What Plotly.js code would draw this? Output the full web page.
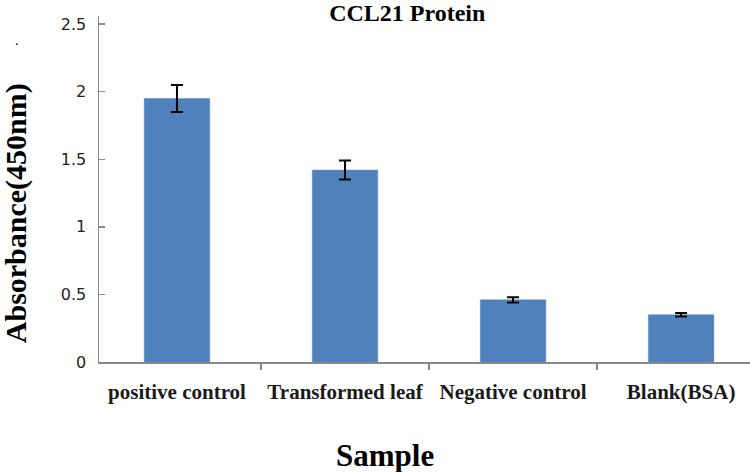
<!DOCTYPE html>
<html>
<head>
<meta charset="utf-8">
<script src="https://cdn.plot.ly/plotly-3.0.1.min.js"></script>
<style>
html,body{margin:0;padding:0;background:#fff;}
#chart{width:750px;height:472px;}
</style>
</head>
<body>
<div id="chart"></div>
<script>
var categories = ['positive control', 'Transformed leaf', 'Negative control', 'Blank(BSA)'];
var absorbance = [1.95, 1.42, 0.46, 0.35];
var errors = [0.10, 0.07, 0.02, 0.013];
var yTickValues = [0, 0.5, 1, 1.5, 2, 2.5];
var yTickLabels = ['0', '0.5', '1', '1.5', '2', '2.5'];

var serif = '"Liberation Serif", "Times New Roman", serif';

var trace = {
  type: 'bar',
  x: categories,
  y: absorbance,
  width: 0.39,
  marker: {color: '#4F81BD', line: {color: '#5a8bc6', width: 0.5}},
  error_y: {type: 'data', array: errors, visible: true, color: '#000000', thickness: 2, width: 6},
  hoverinfo: 'x+y'
};

var layout = {
  width: 750,
  height: 472,
  margin: {l: 99, r: 0, t: 16, b: 110},
  paper_bgcolor: '#ffffff',
  plot_bgcolor: '#ffffff',
  showlegend: false,
  title: {
    text: '<b>CCL21 Protein</b>',
    font: {family: serif, size: 24, color: '#000000'},
    xref: 'container', x: 0.543, xanchor: 'center',
    yref: 'container', y: 0.992, yanchor: 'top'
  },
  xaxis: {
    type: 'category',
    range: [-0.464, 3.41],
    tickson: 'boundaries',
    ticks: 'outside',
    ticklen: 6,
    tickwidth: 1.5,
    tickcolor: '#898989',
    showline: true,
    linecolor: '#898989',
    linewidth: 1.5,
    showgrid: false,
    zeroline: false,
    tickfont: {family: serif, size: 21, color: '#1a1a1a', weight: 'bold'},
    ticklabelstandoff: 10
  },
  yaxis: {
    range: [0, 2.56],
    tickvals: yTickValues,
    ticktext: yTickLabels,
    ticks: 'inside',
    ticklen: 6,
    tickwidth: 1.5,
    tickcolor: '#898989',
    showline: true,
    linecolor: '#898989',
    linewidth: 1.5,
    showgrid: false,
    zeroline: false,
    tickfont: {family: '"DejaVu Sans", Verdana, sans-serif', size: 16, color: '#222222'},
    ticklabelstandoff: 8
  },
  annotations: [
    {
      text: '<b>Absorbance(450nm)</b>',
      textangle: -90,
      xref: 'paper', x: 0, xanchor: 'center', xshift: -83,
      yref: 'paper', y: 0.43, yanchor: 'middle',
      showarrow: false,
      font: {family: serif, size: 30, color: '#000000'}
    },
    {
      text: '.',
      xref: 'paper', x: 0, xanchor: 'center', xshift: -82,
      yref: 'paper', y: 0.93, yanchor: 'middle',
      showarrow: false,
      font: {family: serif, size: 14, color: '#000000'}
    },
    {
      text: '<b>Sample</b>',
      xref: 'paper', x: 0.439, xanchor: 'center',
      yref: 'paper', y: 0, yanchor: 'top', yshift: -74,
      showarrow: false,
      font: {family: serif, size: 31, color: '#000000'}
    }
  ]
};

Plotly.newPlot('chart', [trace], layout, {displayModeBar: false, staticPlot: true});
</script>
</body>
</html>
